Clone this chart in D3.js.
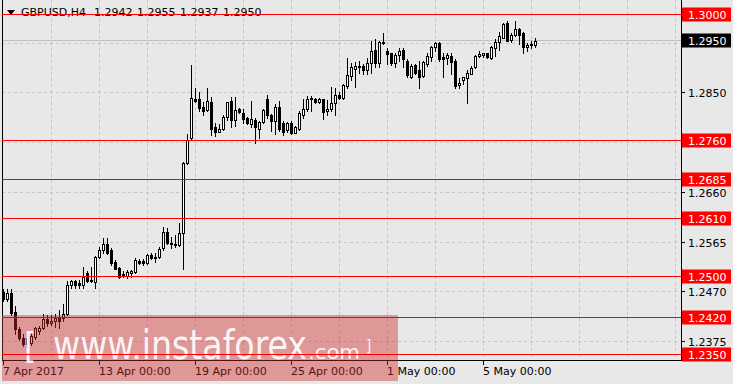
<!DOCTYPE html>
<html>
<head>
<meta charset="utf-8">
<title>GBPUSD H4</title>
<script src="https://cdn.jsdelivr.net/npm/d3@7"></script>
<style>
  html, body { margin: 0; padding: 0; background: #e8e8e8; }
  svg { display: block; }
  text { font-family: "DejaVu Sans", sans-serif; }
</style>
</head>
<body>
<div id="chart"></div>
<script>
// H4 candles, one entry per bar (bar 0 = 7 Apr 2017 00:00)
const opens = [
  1.2470, 1.2457, 1.2468, 1.2431, 1.2398, 1.2382, 1.2371, 1.2372, 1.2383, 1.2394,
  1.2400, 1.2417, 1.2411, 1.2415, 1.2419, 1.2419, 1.2428, 1.2482, 1.2490, 1.2486,
  1.2482, 1.2505, 1.2493, 1.2488, 1.2536, 1.2549, 1.2562, 1.2549, 1.2526, 1.2516,
  1.2503, 1.2501, 1.2505, 1.2507, 1.2528, 1.2528, 1.2524, 1.2541, 1.2537, 1.2537,
  1.2553, 1.2585, 1.2564, 1.2562, 1.2560, 1.2583, 1.2717, 1.2763, 1.2839, 1.2838,
  1.2824, 1.2818, 1.2832, 1.2784, 1.2776, 1.2782, 1.2805, 1.2834, 1.2799, 1.2820,
  1.2811, 1.2803, 1.2791, 1.2799, 1.2782, 1.2795, 1.2838, 1.2808, 1.2797, 1.2824,
  1.2793, 1.2780, 1.2793, 1.2774, 1.2782, 1.2807, 1.2820, 1.2838, 1.2839, 1.2832,
  1.2838, 1.2815, 1.2820, 1.2830, 1.2847, 1.2841, 1.2864, 1.2883, 1.2895, 1.2902,
  1.2902, 1.2893, 1.2908, 1.2933, 1.2908, 1.2948, 1.2931, 1.2926, 1.2908, 1.2922,
  1.2933, 1.2912, 1.2881, 1.2904, 1.2893, 1.2883, 1.2906, 1.2918, 1.2937, 1.2946,
  1.2918, 1.2916, 1.2920, 1.2912, 1.2866, 1.2874, 1.2878, 1.2887, 1.2899, 1.2920,
  1.2922, 1.2926, 1.2916, 1.2935, 1.2948, 1.2956, 1.2983, 1.2952, 1.2960, 1.2973,
  1.2964, 1.2937, 1.2943, 1.2942
];
const highs = [
  1.2476, 1.2476, 1.2476, 1.2442, 1.2402, 1.2390, 1.2390, 1.2392, 1.2403, 1.2405,
  1.2428, 1.2425, 1.2425, 1.2428, 1.2436, 1.2446, 1.2490, 1.2493, 1.2493, 1.2493,
  1.2518, 1.2509, 1.2518, 1.2539, 1.2555, 1.2572, 1.2572, 1.2553, 1.2530, 1.2518,
  1.2509, 1.2512, 1.2512, 1.2534, 1.2533, 1.2532, 1.2542, 1.2545, 1.2545, 1.2555,
  1.2593, 1.2591, 1.2574, 1.2578, 1.2602, 1.2718, 1.2771, 1.2904, 1.2859, 1.2851,
  1.2832, 1.2859, 1.2843, 1.2793, 1.2790, 1.2807, 1.2833, 1.2843, 1.2843, 1.2822,
  1.2820, 1.2805, 1.2834, 1.2803, 1.2797, 1.2820, 1.2847, 1.2810, 1.2828, 1.2834,
  1.2797, 1.2795, 1.2797, 1.2786, 1.2815, 1.2839, 1.2845, 1.2845, 1.2841, 1.2841,
  1.2839, 1.2836, 1.2862, 1.2860, 1.2851, 1.2868, 1.2916, 1.2908, 1.2910, 1.2912,
  1.2906, 1.2916, 1.2950, 1.2954, 1.2950, 1.2964, 1.2935, 1.2927, 1.2926, 1.2935,
  1.2935, 1.2914, 1.2906, 1.2906, 1.2912, 1.2912, 1.2926, 1.2939, 1.2947, 1.2947,
  1.2927, 1.2927, 1.2926, 1.2914, 1.2878, 1.2880, 1.2893, 1.2902, 1.2922, 1.2931,
  1.2927, 1.2927, 1.2939, 1.2954, 1.2966, 1.2983, 1.2987, 1.2964, 1.2987, 1.2975,
  1.2966, 1.2945, 1.2950, 1.2955
];
const lows = [
  1.2453, 1.2453, 1.2425, 1.2390, 1.2377, 1.2367, 1.2365, 1.2369, 1.2380, 1.2390,
  1.2399, 1.2405, 1.2407, 1.2403, 1.2400, 1.2415, 1.2425, 1.2478, 1.2478, 1.2478,
  1.2478, 1.2488, 1.2488, 1.2478, 1.2534, 1.2545, 1.2543, 1.2522, 1.2513, 1.2497,
  1.2499, 1.2497, 1.2499, 1.2505, 1.2523, 1.2522, 1.2523, 1.2532, 1.2526, 1.2535,
  1.2549, 1.2562, 1.2553, 1.2555, 1.2558, 1.2514, 1.2715, 1.2762, 1.2833, 1.2815,
  1.2807, 1.2816, 1.2769, 1.2767, 1.2775, 1.2780, 1.2799, 1.2784, 1.2786, 1.2811,
  1.2793, 1.2791, 1.2784, 1.2755, 1.2763, 1.2793, 1.2803, 1.2778, 1.2772, 1.2778,
  1.2769, 1.2776, 1.2772, 1.2773, 1.2780, 1.2803, 1.2816, 1.2816, 1.2830, 1.2830,
  1.2801, 1.2807, 1.2816, 1.2807, 1.2839, 1.2839, 1.2860, 1.2874, 1.2862, 1.2889,
  1.2887, 1.2887, 1.2889, 1.2899, 1.2899, 1.2944, 1.2906, 1.2904, 1.2899, 1.2912,
  1.2899, 1.2881, 1.2879, 1.2887, 1.2860, 1.2881, 1.2902, 1.2912, 1.2931, 1.2912,
  1.2881, 1.2906, 1.2887, 1.2860, 1.2860, 1.2868, 1.2830, 1.2887, 1.2897, 1.2918,
  1.2918, 1.2916, 1.2914, 1.2920, 1.2933, 1.2956, 1.2950, 1.2948, 1.2958, 1.2943,
  1.2927, 1.2931, 1.2935, 1.2937
];
const closes = [
  1.2457, 1.2468, 1.2430, 1.2398, 1.2382, 1.2371, 1.2382, 1.2386, 1.2400, 1.2400,
  1.2417, 1.2411, 1.2415, 1.2419, 1.2415, 1.2428, 1.2482, 1.2490, 1.2482, 1.2482,
  1.2499, 1.2490, 1.2490, 1.2537, 1.2549, 1.2562, 1.2545, 1.2524, 1.2514, 1.2499,
  1.2501, 1.2507, 1.2509, 1.2530, 1.2524, 1.2524, 1.2541, 1.2534, 1.2535, 1.2551,
  1.2585, 1.2564, 1.2562, 1.2560, 1.2583, 1.2717, 1.2761, 1.2841, 1.2834, 1.2822,
  1.2815, 1.2834, 1.2782, 1.2776, 1.2782, 1.2805, 1.2832, 1.2799, 1.2818, 1.2813,
  1.2801, 1.2793, 1.2801, 1.2784, 1.2795, 1.2818, 1.2807, 1.2797, 1.2824, 1.2782,
  1.2776, 1.2793, 1.2774, 1.2784, 1.2811, 1.2820, 1.2839, 1.2841, 1.2832, 1.2838,
  1.2813, 1.2820, 1.2830, 1.2847, 1.2841, 1.2866, 1.2885, 1.2899, 1.2901, 1.2899,
  1.2893, 1.2908, 1.2931, 1.2908, 1.2948, 1.2945, 1.2924, 1.2908, 1.2922, 1.2931,
  1.2914, 1.2885, 1.2902, 1.2889, 1.2881, 1.2910, 1.2920, 1.2937, 1.2946, 1.2914,
  1.2914, 1.2922, 1.2910, 1.2864, 1.2870, 1.2880, 1.2889, 1.2897, 1.2920, 1.2924,
  1.2926, 1.2918, 1.2937, 1.2948, 1.2958, 1.2981, 1.2950, 1.2960, 1.2973, 1.2960,
  1.2937, 1.2941, 1.2941, 1.2950
];

// horizontal support / resistance levels (red)
const levelLines = [1.3000, 1.2760, 1.2685, 1.2610, 1.2500, 1.2420, 1.2350];
// price axis ticks
const priceTicks = [1.2945, 1.2850, 1.2755, 1.2660, 1.2565, 1.2470, 1.2375];
// time axis
const timeLabels = ['7 Apr 2017', '13 Apr 00:00', '19 Apr 00:00', '25 Apr 00:00', '1 May 00:00', '5 May 00:00'];
const timeTickBars = [0, 24, 48, 72, 96, 120];

const symbolName = 'GBPUSD,H4';

function drawChart() {
  const W = 733, H = 384;
  const plot = { left: 2, right: 681, top: 0, bottom: 360 };

  const svg = d3.select('#chart')
    .append('svg')
    .attr('width', W)
    .attr('height', H);

  svg.append('rect')
    .attr('width', W)
    .attr('height', H)
    .attr('fill', '#e8e8e8');

  // bar index -> x, 4px per bar
  const x = d3.scaleLinear().domain([0, 168]).range([3.5, 675.5]);
  // price -> y
  const y = d3.scaleLinear().domain([1.2350, 1.3000]).range([354.5, 14.5]);
  const crisp = v => Math.floor(v) + 0.5;

  svg.append('clipPath').attr('id', 'plot-clip')
    .append('rect')
    .attr('x', plot.left)
    .attr('y', plot.top)
    .attr('width', plot.right - plot.left)
    .attr('height', plot.bottom - plot.top);

  const g = svg.append('g').attr('clip-path', 'url(#plot-clip)');

  // dashed grid
  const gridColor = '#c4c4c4';
  g.selectAll('.vgrid')
    .data(d3.range(12, 169, 12))
    .enter()
    .append('line')
    .attr('x1', d => x(d)).attr('x2', d => x(d))
    .attr('y1', plot.top).attr('y2', plot.bottom)
    .attr('stroke', gridColor)
    .attr('stroke-dasharray', '3,3');

  g.selectAll('.hgrid')
    .data(priceTicks)
    .enter()
    .append('line')
    .attr('x1', plot.left).attr('x2', plot.right)
    .attr('y1', d => crisp(y(d))).attr('y2', d => crisp(y(d)))
    .attr('stroke', gridColor)
    .attr('stroke-dasharray', '3,3');

  // current price line
  const lastClose = closes[closes.length - 1];
  g.append('line')
    .attr('x1', plot.left).attr('x2', plot.right)
    .attr('y1', crisp(y(lastClose))).attr('y2', crisp(y(lastClose)))
    .attr('stroke', '#c0c0c0');

  // header
  const last = opens.length - 1;
  svg.append('path')
    .attr('d', 'M7,10 L15,10 L11,15 Z')
    .attr('fill', '#000');
  svg.append('text')
    .attr('x', 21).attr('y', 16)
    .style('font-size', '11px')
    .attr('fill', '#000')
    .text(symbolName);
  [opens[last], highs[last], lows[last], closes[last]].forEach((v, i) => {
    svg.append('text')
      .attr('x', 94 + i * 43).attr('y', 16)
      .style('font-size', '11px')
      .attr('fill', '#000')
      .text(v.toFixed(4));
  });

  // candles
  const bars = d3.range(opens.length);
  const candle = g.selectAll('.candle')
    .data(bars)
    .enter()
    .append('g')
    .attr('class', 'candle');

  candle.append('line')
    .attr('x1', i => x(i)).attr('x2', i => x(i))
    .attr('y1', i => Math.round(y(highs[i])))
    .attr('y2', i => Math.round(y(lows[i])) + 1)
    .attr('stroke', '#000');

  candle.append('rect')
    .attr('x', i => x(i) - 1)
    .attr('width', 2)
    .attr('y', i => Math.round(y(Math.max(opens[i], closes[i]))) + 0.5)
    .attr('height', i => Math.round(y(Math.min(opens[i], closes[i]))) - Math.round(y(Math.max(opens[i], closes[i]))))
    .attr('fill', i => closes[i] >= opens[i] ? '#fff' : '#000')
    .attr('stroke', '#000');

  // frame
  svg.append('line')
    .attr('x1', plot.left + 0.5).attr('x2', plot.left + 0.5)
    .attr('y1', plot.top).attr('y2', plot.bottom + 0.5)
    .attr('stroke', '#000');
  svg.append('line')
    .attr('x1', plot.right + 0.5).attr('x2', plot.right + 0.5)
    .attr('y1', plot.top).attr('y2', plot.bottom + 0.5)
    .attr('stroke', '#000');
  svg.append('line')
    .attr('x1', plot.left).attr('x2', plot.right + 1)
    .attr('y1', plot.bottom + 0.5).attr('y2', plot.bottom + 0.5)
    .attr('stroke', '#000');

  // price axis (labels hidden behind a level box are skipped)
  const boxed = levelLines.concat([lastClose]);
  priceTicks.forEach(p => {
    const yy = crisp(y(p));
    svg.append('line')
      .attr('x1', plot.right + 1).attr('x2', plot.right + 4)
      .attr('y1', yy).attr('y2', yy)
      .attr('stroke', '#000');
    if (boxed.some(b => Math.abs(y(b) - y(p)) < 8)) return;
    svg.append('text')
      .attr('x', 688).attr('y', yy + 4)
      .style('font-size', '11px')
      .attr('fill', '#000')
      .text(p.toFixed(4));
  });

  // time axis
  timeTickBars.forEach((b, i) => {
    const xx = x(b);
    svg.append('line')
      .attr('x1', xx).attr('x2', xx)
      .attr('y1', plot.bottom + 1).attr('y2', plot.bottom + 5)
      .attr('stroke', '#000');
    svg.append('text')
      .attr('x', xx - 0.5).attr('y', 375)
      .style('font-size', '11px')
      .attr('fill', '#000')
      .text(timeLabels[i]);
  });

  // watermark, drawn over candles and time labels
  svg.append('rect')
    .attr('x', plot.left).attr('y', 315)
    .attr('width', 396).attr('height', 66)
    .attr('fill', 'rgb(210,40,40)')
    .attr('opacity', 0.42);
  const wm = svg.append('g')
    .attr('fill', '#fff')
    .attr('opacity', 0.9)
    .style('font-family', '"Liberation Sans Narrow", "DejaVu Sans Condensed", sans-serif');
  wm.append('text')
    .attr('x', 53).attr('y', 359)
    .attr('textLength', 254)
    .attr('lengthAdjust', 'spacingAndGlyphs')
    .style('font-family', 'inherit')
    .style('font-size', '40px')
    .text('www.instaforex');
  wm.append('text')
    .attr('x', 308).attr('y', 359)
    .attr('textLength', 52)
    .attr('lengthAdjust', 'spacingAndGlyphs')
    .style('font-family', 'inherit')
    .style('font-size', '20px')
    .text('.com');
  wm.append('text')
    .attr('x', 24).attr('y', 358)
    .style('font-family', 'inherit')
    .style('font-size', '35px')
    .text('[');
  wm.append('text')
    .attr('x', 366).attr('y', 351)
    .style('font-family', 'inherit')
    .style('font-size', '15px')
    .text(']');

  // red levels on top
  svg.selectAll('.level')
    .data(levelLines)
    .enter()
    .append('line')
    .attr('x1', plot.left).attr('x2', plot.right)
    .attr('y1', d => crisp(y(d))).attr('y2', d => crisp(y(d)))
    .attr('stroke', '#ff0000');

  // level labels
  levelLines.forEach(p => {
    const yy = crisp(y(p));
    svg.append('rect')
      .attr('x', 682).attr('y', yy - 7)
      .attr('width', 49).attr('height', 14)
      .attr('fill', '#ff0000');
    svg.append('text')
      .attr('x', 688).attr('y', yy + 4)
      .style('font-size', '11px')
      .attr('fill', '#fff')
      .text(p.toFixed(4));
  });

  // current price label
  const cy = crisp(y(lastClose));
  svg.append('rect')
    .attr('x', 682).attr('y', cy - 7)
    .attr('width', 49).attr('height', 14)
    .attr('fill', '#000');
  svg.append('text')
    .attr('x', 688).attr('y', cy + 4)
    .style('font-size', '11px')
    .attr('fill', '#fff')
    .text(lastClose.toFixed(4));
}

drawChart();
</script>
</body>
</html>
